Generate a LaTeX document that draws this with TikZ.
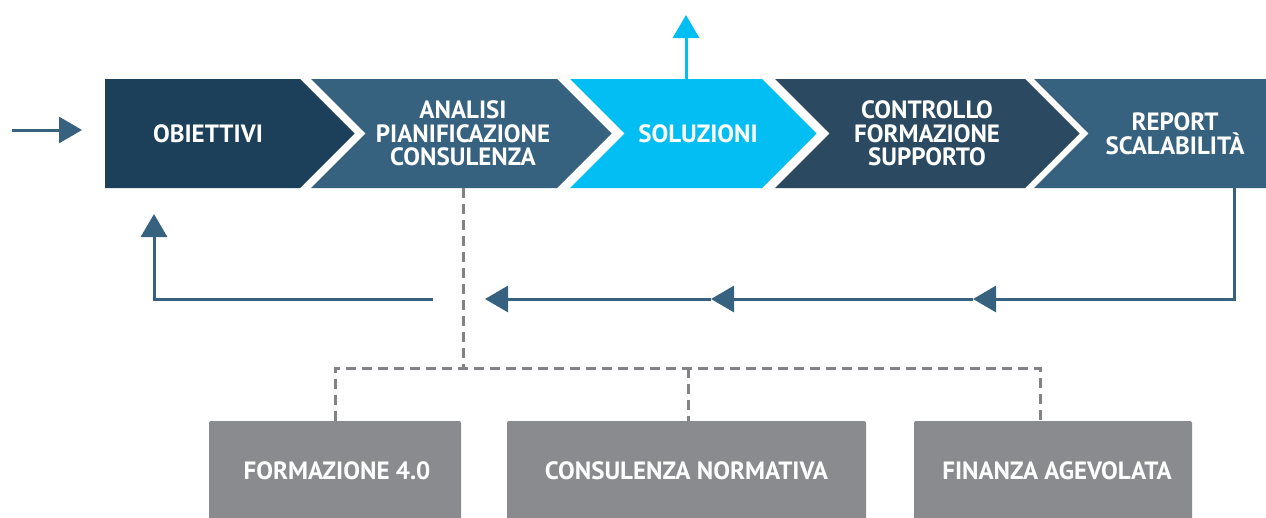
\documentclass[tikz,border=0pt]{standalone}
\usepackage{fontspec}
\setmainfont{PT Sans}
\usetikzlibrary{arrows.meta}
\definecolor{cObi}{HTML}{1D405A}
\definecolor{cMid}{HTML}{36617F}
\definecolor{cSol}{HTML}{02BEF2}
\definecolor{cCtl}{HTML}{2B4A62}
\definecolor{cGray}{HTML}{8A8B8F}
\definecolor{cDash}{HTML}{828387}
\tikzset{
  lab/.style={text=white, align=center, inner sep=0pt, font=\fontsize{25}{23.5}\selectfont\bfseries},
  flow/.style={draw=cMid, line width=3pt, -{Triangle[length=23pt,width=26pt]}},
  dashline/.style={draw=cDash, line width=3pt, dash pattern=on 10pt off 6pt},
  graybox/.style={fill=cGray, rounded corners=2pt},
}
\begin{document}
\begin{tikzpicture}[x=1pt,y=-1pt]
\useasboundingbox (0,0) rectangle (1266,517);
% chevron banner
\fill[cObi] (105,79) -- (300,79) -- (354.5,133.5) -- (300,188) -- (105,188) -- cycle;
\fill[cMid] (311,79) -- (557,79) -- (611.5,133.5) -- (557,188) -- (311,188) -- (365.5,133.5) -- cycle;
\fill[cSol] (570,79) -- (762,79) -- (816.5,133.5) -- (762,188) -- (570,188) -- (624.5,133.5) -- cycle;
\fill[cCtl] (775,79) -- (1025,79) -- (1079.5,133.5) -- (1025,188) -- (775,188) -- (829.5,133.5) -- cycle;
\fill[cMid] (1034,79) -- (1266,79) -- (1266,188) -- (1034,188) -- (1088.5,133.5) -- cycle;
\node[lab] (obi) at (208,133.5) {OBIETTIVI};
\node[lab] (ana) at (463,133.5) {ANALISI\\PIANIFICAZIONE\\CONSULENZA};
\node[lab] (sol) at (698,133.5) {SOLUZIONI};
\node[lab] (ctl) at (927,133.5) {CONTROLLO\\FORMAZIONE\\SUPPORTO};
\node[lab] (rep) at (1175,133.5) {REPORT\\SCALABILITÀ};
% anchor coordinates on the banner
\coordinate (inS) at (12,130);
\coordinate (inE) at (82,130);
\coordinate (solTop) at (686,79);
\coordinate (upTip) at (686,15);
\coordinate (repBot) at (1234,188);
\coordinate (fbCorner) at (1234,299);
\coordinate (fbA) at (973,299);
\coordinate (fbB) at (711,299);
\coordinate (fbC) at (485,299);
\coordinate (fbD) at (433,299);
\coordinate (fbE) at (154,299);
\coordinate (obiTip) at (154,214);
\coordinate (anaBot) at (463,188);
\coordinate (anaJoin) at (463,368);
\coordinate (busL) at (335,368);
\coordinate (busM) at (688,368);
\coordinate (busR) at (1040,368);
% input arrow
\draw[flow] (inS) -- (inE);
% up arrow
\draw[flow, draw=cSol] (solTop) -- (upTip);
% feedback loop
\draw[flow] (repBot) -- (fbCorner) -- (fbA);
\draw[flow] (fbA) -- (fbB);
\draw[flow] (fbB) -- (fbC);
\draw[flow] (fbD) -- (fbE) -- (obiTip);
% bottom boxes
\path[graybox] (209,530) -- (209,421) -- (461,421) -- (461,530);
\path[graybox] (507,530) -- (507,421) -- (866,421) -- (866,530);
\path[graybox] (914,530) -- (914,421) -- (1192,421) -- (1192,530);
\node[lab] (b1) at (337,471) {FORMAZIONE 4.0};
\node[lab] (b2) at (686.5,471) {CONSULENZA NORMATIVA};
\node[lab] (b3) at (1057,471) {FINANZA AGEVOLATA};
\coordinate (b1top) at (335,421);
\coordinate (b2top) at (688,421);
\coordinate (b3top) at (1040,421);
% dashed connectors
\draw[dashline] (anaBot) -- (anaJoin);
\draw[dashline] (b1top) -- (busL) -- (busR) -- (b3top);
\draw[dashline] (busM) -- (b2top);
\end{tikzpicture}
\end{document}
